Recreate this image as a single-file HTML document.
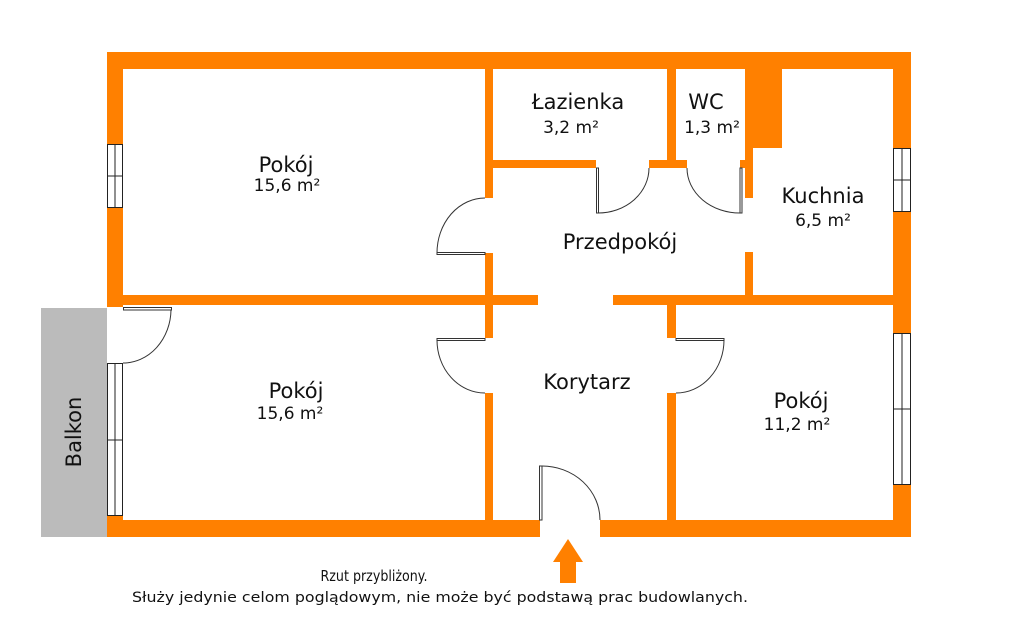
<!DOCTYPE html>
<html><head><meta charset="utf-8"><style>
html,body{margin:0;padding:0;background:#fff;width:1024px;height:644px;overflow:hidden}
svg{display:block}
text{font-family:"DejaVu Sans","Liberation Sans",sans-serif;fill:#111}
</style></head><body>
<svg width="1024" height="644" viewBox="0 0 1024 644" xmlns="http://www.w3.org/2000/svg">
<rect x="41" y="308" width="66" height="229" fill="#bbbbbb"/>
<g fill="#ff8000">
<rect x="107" y="52" width="804" height="17"/>
<rect x="893" y="52" width="18" height="485"/>
<rect x="107" y="520" width="433" height="17"/>
<rect x="600" y="520" width="311" height="17"/>
<rect x="107" y="52" width="16" height="255"/>
<rect x="107" y="515" width="16" height="10"/>
<rect x="123" y="295" width="415" height="10"/>
<rect x="613" y="295" width="280" height="10"/>
<rect x="485" y="69" width="8" height="129"/>
<rect x="485" y="253" width="8" height="85"/>
<rect x="485" y="393" width="8" height="127"/>
<rect x="493" y="160" width="103" height="8"/>
<rect x="649" y="160" width="38" height="8"/>
<rect x="667" y="69" width="9" height="91"/>
<rect x="745" y="69" width="8" height="129"/>
<rect x="740" y="160" width="5" height="8"/>
<rect x="753" y="69" width="29" height="79"/>
<rect x="745" y="252" width="8" height="44"/>
<rect x="667" y="305" width="9" height="33"/>
<rect x="667" y="393" width="9" height="127"/>
<polygon points="568,539 553,562 583,562"/>
<rect x="560" y="561" width="16" height="22"/>
</g>
<g fill="#fff" stroke="#222" stroke-width="1">
<rect x="107.5" y="144.5" width="15" height="63"/>
<line x1="115" y1="144" x2="115" y2="207"/><line x1="107" y1="176" x2="123" y2="176"/>
<rect x="107.5" y="363.5" width="15" height="152"/>
<line x1="115" y1="363" x2="115" y2="515"/><line x1="107" y1="440" x2="123" y2="440"/>
<rect x="893.5" y="148.5" width="17" height="63"/>
<line x1="902" y1="148" x2="902" y2="211"/><line x1="893" y1="180" x2="911" y2="180"/>
<rect x="893.5" y="333.5" width="17" height="151"/>
<line x1="902" y1="333" x2="902" y2="484"/><line x1="893" y1="409" x2="911" y2="409"/>
</g>
<g fill="none" stroke="#333" stroke-width="1">
<rect x="123.5" y="307.5" width="48" height="2.5" fill="#fff"/>
<path d="M171,310 A48,54 0 0 1 123,363"/>
<rect x="596.5" y="168" width="2" height="45" fill="#fff"/>
<path d="M598,213 A51,45 0 0 0 649,168"/>
<rect x="740" y="168" width="2" height="45" fill="#fff"/>
<path d="M740,213 A53,45 0 0 1 687,168"/>
<rect x="437" y="252.5" width="48" height="2" fill="#fff"/>
<path d="M437,253 A48,55 0 0 1 485,198"/>
<rect x="437" y="338.5" width="48" height="2" fill="#fff"/>
<path d="M437,340 A48,53 0 0 0 485,393"/>
<rect x="676" y="338.5" width="48" height="2" fill="#fff"/>
<path d="M724,340 A48,53 0 0 1 676,393"/>
<rect x="539.5" y="466" width="2.5" height="54" fill="#fff"/>
<path d="M542,466 A58,54 0 0 1 600,520"/>
</g>
<g text-anchor="middle">
<text x="286" y="172" font-size="21">Pokój</text>
<text x="287" y="191" font-size="17">15,6 m²</text>
<text x="578" y="109" font-size="21">Łazienka</text>
<text x="571" y="133" font-size="17">3,2 m²</text>
<text x="706" y="109" font-size="21">WC</text>
<text x="712" y="133" font-size="17">1,3 m²</text>
<text x="823" y="203" font-size="21">Kuchnia</text>
<text x="823" y="226" font-size="17">6,5 m²</text>
<text x="620" y="249" font-size="21">Przedpokój</text>
<text x="587" y="389" font-size="21">Korytarz</text>
<text x="296" y="398" font-size="21">Pokój</text>
<text x="290" y="419" font-size="17">15,6 m²</text>
<text x="801" y="408" font-size="21">Pokój</text>
<text x="797" y="430" font-size="17">11,2 m²</text>
<text x="374" y="581" font-size="15" textLength="107" lengthAdjust="spacingAndGlyphs">Rzut przybliżony.</text>
<text x="440" y="602" font-size="14" textLength="616" lengthAdjust="spacingAndGlyphs">Służy jedynie celom poglądowym, nie może być podstawą prac budowlanych.</text>
</g>
<text x="0" y="0" font-size="21" text-anchor="middle" transform="translate(81,432) rotate(-90)">Balkon</text>
</svg>
</body></html>
